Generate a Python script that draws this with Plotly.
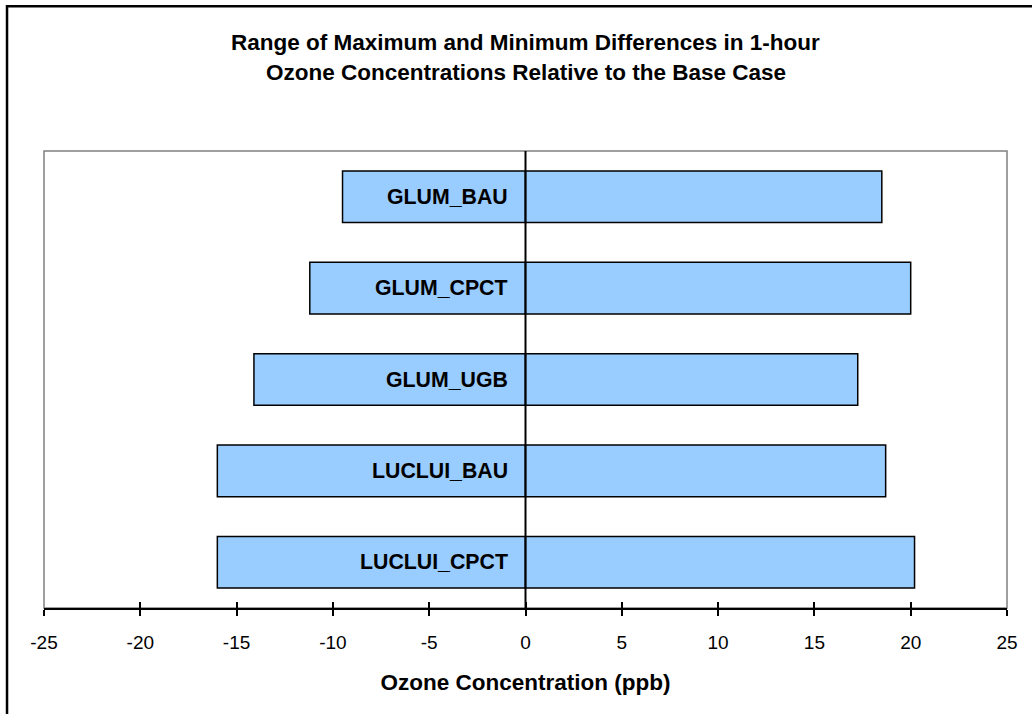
import plotly.graph_objects as go

categories = ["GLUM_BAU", "GLUM_CPCT", "GLUM_UGB", "LUCLUI_BAU", "LUCLUI_CPCT"]
min_diff = [-9.5, -11.2, -14.1, -16.0, -16.0]
max_diff = [18.5, 20.0, 17.25, 18.7, 20.2]
tick_vals = [-25, -20, -15, -10, -5, 0, 5, 10, 15, 20, 25]
title_lines = ["Range of Maximum and Minimum Differences in 1-hour",
               "Ozone Concentrations Relative to the Base Case"]
x_title = "Ozone Concentration (ppb)"

FONT = "Arial, Liberation Sans, sans-serif"
FILL = "#99CCFF"

fig = go.Figure()
for vals in (min_diff, max_diff):
    fig.add_trace(go.Bar(
        y=categories, x=vals, orientation="h",
        marker=dict(color=FILL, line=dict(color="#000000", width=1.5)),
        showlegend=False, hoverinfo="x+y",
    ))

# category labels inside bars, right-aligned near zero
for c in categories:
    fig.add_annotation(x=0, y=c, xref="x", yref="y", text="<b>%s</b>" % c,
                       showarrow=False, xanchor="right", yanchor="middle",
                       xshift=-16, font=dict(family=FONT, size=21.3, color="#000000"))

# title
for line, py in zip(title_lines, [1.2385, 1.1707]):
    fig.add_annotation(x=0.5, y=py, xref="paper", yref="paper", text="<b>%s</b>" % line,
                       showarrow=False, xanchor="center", yanchor="middle",
                       font=dict(family=FONT, size=22.5, color="#000000"))

# plot area border (gray)
fig.add_shape(type="rect", xref="paper", yref="paper", x0=0, x1=1, y0=0, y1=1,
              line=dict(color="#808080", width=1.5), layer="below")
# outer chart frame
fig.add_shape(type="rect", xref="paper", yref="paper", x0=-0.0384, x1=1.04, y0=-0.26, y1=1.3165,
              line=dict(color="#000000", width=2.5), layer="below")
# vertical zero axis line drawn above bars
fig.add_shape(type="line", xref="x", yref="paper", x0=0, x1=0, y0=0, y1=1,
              line=dict(color="#000000", width=2), layer="above")

fig.update_layout(
    width=1032, height=714,
    margin=dict(l=44, r=25, t=151, b=106),
    paper_bgcolor="#FFFFFF", plot_bgcolor="#FFFFFF",
    barmode="relative", bargap=0.435,
    font=dict(family=FONT, color="#000000"),
    xaxis=dict(range=[-25, 25], tickvals=tick_vals, ticktext=[str(v) for v in tick_vals],
               ticks="outside", ticklen=6, tickwidth=1.5, tickcolor="#000000",
               showline=True, linecolor="#000000", linewidth=2,
               showgrid=False, zeroline=False,
               tickfont=dict(family=FONT, size=19, color="#000000"),
               ticklabelstandoff=10,
               title=dict(text="<b>%s</b>" % x_title, standoff=22,
                          font=dict(family=FONT, size=22.5, color="#000000"))),
    xaxis2=dict(overlaying="x", matches="x", anchor="y", side="bottom",
                range=[-25, 25], tickvals=tick_vals, showticklabels=False,
                ticks="inside", ticklen=6, tickwidth=1.5, tickcolor="#000000",
                showline=False, showgrid=False, zeroline=False),
    yaxis=dict(categoryorder="array", categoryarray=categories, autorange="reversed",
               showticklabels=False, ticks="", showgrid=False, zeroline=False, showline=False),
)
fig.add_trace(go.Scatter(x=[None], y=[None], xaxis="x2", yaxis="y", showlegend=False,
                         hoverinfo="skip"))

fig.write_html("out.html", config=dict(displayModeBar=False),
               post_script="document.body.style.margin='0';")
